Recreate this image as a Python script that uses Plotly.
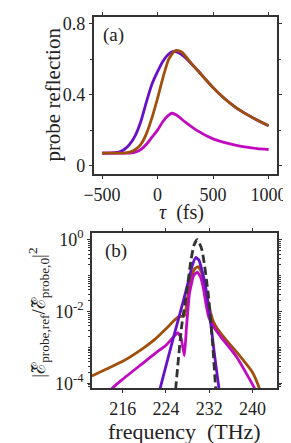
import plotly.graph_objects as go

# ---------- panel (a) data ----------
tau_purple = [-500, -400, -350, -300, -250, -200, -150, -100, -50, 0, 50, 100, 140, 180, 250, 350, 500, 600, 700, 800, 900, 1000]
r_purple = [0.07, 0.071, 0.075, 0.09, 0.12, 0.17, 0.25, 0.36, 0.46, 0.53, 0.59, 0.63, 0.645, 0.64, 0.61, 0.545, 0.44, 0.38, 0.33, 0.29, 0.255, 0.225]

tau_brown = [-500, -300, -250, -200, -150, -100, -50, 0, 50, 100, 150, 175, 220, 300, 350, 500, 600, 700, 800, 900, 1000]
r_brown = [0.07, 0.07, 0.075, 0.09, 0.12, 0.18, 0.27, 0.38, 0.5, 0.6, 0.645, 0.65, 0.64, 0.58, 0.545, 0.44, 0.38, 0.33, 0.29, 0.255, 0.225]

tau_magenta = [-500, -250, -200, -150, -100, -50, 0, 50, 100, 130, 170, 250, 350, 500, 600, 700, 800, 900, 1000]
r_magenta = [0.07, 0.07, 0.075, 0.09, 0.12, 0.16, 0.2, 0.25, 0.285, 0.295, 0.285, 0.245, 0.2, 0.15, 0.13, 0.115, 0.103, 0.095, 0.09]

# ---------- panel (b) data ----------
f_purple = [222.5, 222.9, 223.75, 225.5, 227.2, 228.35, 228.9, 229.5, 230.1, 230.6, 231.2, 232.1, 232.9, 233.8, 234.1]
s_purple = [3.5e-5, 7.0e-5, 2.2e-4, 2.2e-3, 1.95e-2, 9.3e-2, 0.2, 0.32, 0.27, 0.15, 6.2e-2, 7.6e-3, 7.6e-4, 7.0e-5, 3.5e-5]

f_brown = [210.3, 213, 216, 219.7, 222, 224, 225.5, 226.4, 227.4, 228.1, 228.8, 229.4, 230, 230.6, 231.2, 232.0, 232.7, 233.5, 235, 237, 240, 241.3, 241.6]
s_brown = [1.6e-4, 2.5e-4, 4.1e-4, 9.3e-4, 1.7e-3, 3.3e-3, 5.6e-3, 7.2e-3, 7.6e-3, 3.2e-2, 0.1, 0.16, 0.178, 0.12, 4.5e-2, 1.3e-2, 5.5e-3, 3.3e-3, 1.7e-3, 7.6e-4, 2.0e-4, 7.0e-5, 5.0e-5]

f_magenta = [213.3, 214, 216, 219.7, 222, 224, 225.3, 226.2, 226.8, 227.4, 227.8, 228.35, 229.1, 229.8, 230.4, 230.9, 231.4, 231.9, 232.6, 233.3, 234.1, 237, 240.4, 240.8]
s_magenta = [3.5e-5, 7.0e-5, 1.3e-4, 3.6e-4, 6.8e-4, 1.15e-3, 1.9e-3, 2.6e-3, 1.8e-3, 5.9e-4, 3.9e-3, 3.2e-2, 0.1, 0.126, 0.09, 4.5e-2, 1.6e-2, 7.0e-3, 4.2e-3, 2.9e-3, 2.0e-3, 5.6e-4, 7.0e-5, 3.5e-5]

f_dash = [225.6, 225.77, 226.9, 227.8, 228.6, 229.2, 229.8, 230.6, 231.8, 232.6, 233.2, 233.35]
s_dash = [3.2e-5, 6.5e-5, 3.9e-3, 3.2e-2, 0.26, 0.72, 1.0, 0.55, 3.2e-2, 1.35e-3, 6.5e-5, 3.2e-5]

C_PURPLE = "rgb(104,16,200)"
C_BROWN = "rgb(160,80,10)"
C_MAGENTA = "rgb(192,10,192)"
C_DASH = "rgb(50,50,50)"
FONT = "Liberation Serif"
TXT = "#222222"

W, H = 291, 443
fig = go.Figure()
lw = 2.8
def ln(c, sm=0.6):
    return dict(color=c, width=lw, shape="spline", smoothing=sm)

fig.add_trace(go.Scatter(x=tau_purple, y=r_purple, mode="lines", line=ln(C_PURPLE), xaxis="x", yaxis="y"))
fig.add_trace(go.Scatter(x=tau_magenta, y=r_magenta, mode="lines", line=ln(C_MAGENTA), xaxis="x", yaxis="y"))
fig.add_trace(go.Scatter(x=tau_brown, y=r_brown, mode="lines", line=ln(C_BROWN), xaxis="x", yaxis="y"))

fig.add_trace(go.Scatter(x=f_brown, y=s_brown, mode="lines", line=ln(C_BROWN, 0.4), xaxis="x2", yaxis="y2"))
fig.add_trace(go.Scatter(x=f_magenta, y=s_magenta, mode="lines", line=ln(C_MAGENTA, 0.4), xaxis="x2", yaxis="y2"))
fig.add_trace(go.Scatter(x=f_purple, y=s_purple, mode="lines", line=ln(C_PURPLE, 0.4), xaxis="x2", yaxis="y2"))
fig.add_trace(go.Scatter(x=f_dash, y=s_dash, mode="lines",
                         line=dict(color=C_DASH, width=2.8, dash="8px,4px", shape="spline", smoothing=0.6),
                         xaxis="x2", yaxis="y2"))

axcommon = dict(showline=True, linecolor="#333333", linewidth=1.5, mirror="allticks", ticks="outside",
                ticklen=3, tickcolor="#333333", showgrid=False, zeroline=False,
                tickfont=dict(family=FONT, size=18, color=TXT))

fig.update_layout(
    width=W, height=H, margin=dict(l=0, r=0, t=0, b=0),
    paper_bgcolor="white", plot_bgcolor="white", showlegend=False,
    font=dict(family=FONT, color=TXT),
    xaxis=dict(domain=[81/W, 277/W], range=[-575, 1075], tickvals=[-500, 0, 500, 1000], anchor="y",
               minor=dict(ticks="", showgrid=False), **axcommon),
    yaxis=dict(domain=[1-165/H, 1-4/H], range=[-0.05, 0.84], tickvals=[0, 0.4, 0.8], ticktext=["0", "0.4", "0.8"], anchor="x",
               minor=dict(tickvals=[0.2, 0.6], ticks="outside", ticklen=2, tickcolor="#333333"), **axcommon),
    xaxis2=dict(domain=[79/W, 277/W], range=[210.3, 244.5], tickvals=[216, 224, 232, 240], anchor="y2",
                minor=dict(ticks="", showgrid=False), **axcommon),
    yaxis2=dict(domain=[1-384/H, 1-225/H], type="log", range=[-4.14, 0.19], tickvals=[1, 1e-2, 1e-4],
                ticktext=["10<sup>0</sup>", "10<sup>-2</sup>", "10<sup>-4</sup>"], anchor="x2",
                minor=dict(ticks="outside", ticklen=2, tickcolor="#333333", dtick="D1"), **axcommon),
)

ann = [
    dict(text="(a)", x=89/W, y=1-22/H, xanchor="left", yanchor="middle", font=dict(size=19)),
    dict(text="(b)", x=91/W, y=1-243/H, xanchor="left", yanchor="middle", font=dict(size=19)),
    dict(text="probe reflection", x=38/W, y=1-84/H, textangle=-90, xanchor="center", yanchor="middle", font=dict(size=21)),
    dict(text="<i>τ</i>  (fs)", x=175/W, y=1-204/H, xanchor="center", yanchor="middle", font=dict(size=20)),
    dict(text="frequency  (THz)", x=178/W, y=1-428/H, xanchor="center", yanchor="middle", font=dict(size=22)),
    dict(text="|ℰ̃<sub>probe,ref</sub>/ℰ̃<sub>probe,0</sub>|<sup>2</sup>", x=22/W, y=1-307/H, textangle=-90,
         xanchor="center", yanchor="middle", font=dict(size=19)),
]
for a in ann:
    a.update(xref="paper", yref="paper", showarrow=False)
    a["font"] = dict(family=FONT, color=TXT, **a["font"])
fig.update_layout(annotations=ann)

fig.write_html("out.html")
